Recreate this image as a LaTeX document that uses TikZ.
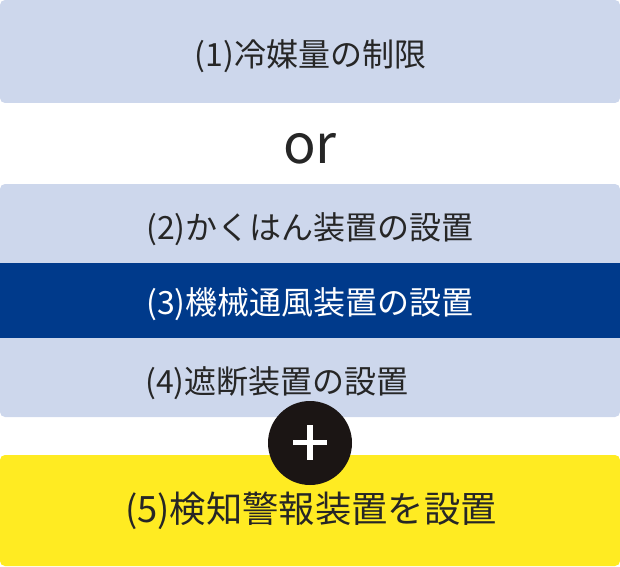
\documentclass[tikz,border=0pt]{standalone}
\usepackage{fontspec}
\newfontfamily\jp{Noto Sans CJK JP}
\definecolor{lightbox}{HTML}{CDD7EC}
\definecolor{darkband}{HTML}{003A8B}
\definecolor{yellowbox}{HTML}{FFEB22}
\definecolor{circfill}{HTML}{1B1514}
\definecolor{txt}{HTML}{262626}
\tikzset{
  boxlabel/.style={anchor=center, inner sep=0pt, text=txt, font=\jp\fontsize{32bp}{36bp}\selectfont},
  panel/.style={rounded corners=5bp, draw=none},
}
\begin{document}
\begin{tikzpicture}[x=1bp, y=-1bp]
\useasboundingbox (0,0) rectangle (620,567);
% box 1
\fill[lightbox, panel] (0,0) rectangle (620,103);
\node[boxlabel] (t1) at (310.5,56) {(1)冷媒量の制限};
% or
\node[anchor=center, inner sep=0pt, text=txt, font=\jp\fontsize{54bp}{60bp}\selectfont] (or) at (310,149) {or};
% group box
\fill[lightbox, panel] (0,184) rectangle (620,417);
\fill[darkband] (0,263) rectangle (620,338);
\node[boxlabel] (t2) at (310,229) {(2)かくはん装置の設置};
\node[boxlabel, text=white] (t3) at (310,304) {(3)機械通風装置の設置};
\node[boxlabel, anchor=west] (t4) at (145,383) {(4)遮断装置の設置};
% yellow box
\fill[yellowbox, panel] (0,455) rectangle (620,566);
\node[boxlabel, font=\jp\fontsize{36.3bp}{40bp}\selectfont] (t5) at (311,511) {(5)検知警報装置を設置};
% plus circle
\node[circle, fill=circfill, minimum size=84bp, inner sep=0pt] (plus) at (310,443) {};
\fill[white] (293,440) rectangle (327,445.2);
\fill[white] (307,425) rectangle (312.5,460);
\end{tikzpicture}
\end{document}
